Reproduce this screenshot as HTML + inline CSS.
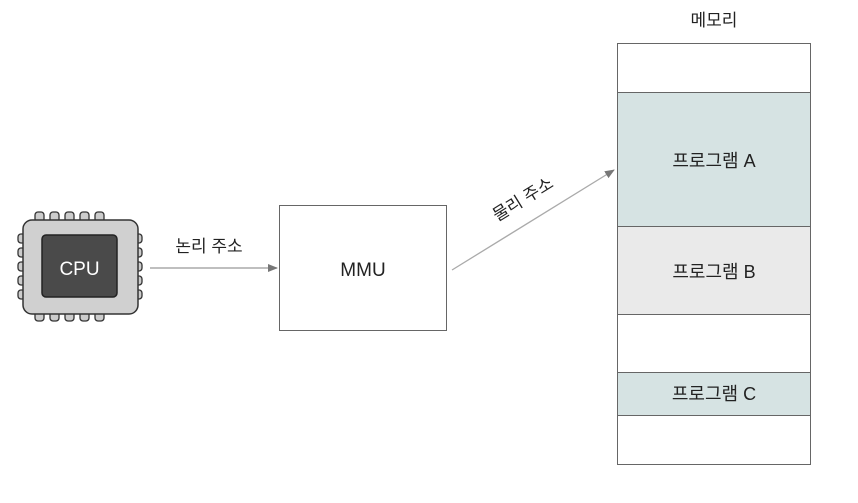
<!DOCTYPE html>
<html><head><meta charset="utf-8"><style>
body{margin:0;background:#fff;width:858px;height:498px;overflow:hidden}
text{font-family:"Liberation Sans","Noto Sans CJK KR",sans-serif;fill:#222}
</style></head><body>
<svg width="858" height="498" viewBox="0 0 858 498">
<defs><marker id="a" markerWidth="10" markerHeight="8" refX="9" refY="4" orient="auto" markerUnits="userSpaceOnUse"><path d="M0,0 L10,4 L0,8z" fill="#777"/></marker></defs>
<g fill="#ccc" stroke="#333" stroke-width="1.3">
<rect x="35" y="212" width="9" height="10" rx="3"/><rect x="50" y="212" width="9" height="10" rx="3"/><rect x="65" y="212" width="9" height="10" rx="3"/><rect x="80" y="212" width="9" height="10" rx="3"/><rect x="95" y="212" width="9" height="10" rx="3"/>
<rect x="35" y="311" width="9" height="10" rx="3"/><rect x="50" y="311" width="9" height="10" rx="3"/><rect x="65" y="311" width="9" height="10" rx="3"/><rect x="80" y="311" width="9" height="10" rx="3"/><rect x="95" y="311" width="9" height="10" rx="3"/>
<rect x="18" y="234" width="8" height="9" rx="3"/><rect x="18" y="248" width="8" height="9" rx="3"/><rect x="18" y="262" width="8" height="9" rx="3"/><rect x="18" y="276" width="8" height="9" rx="3"/><rect x="18" y="290" width="8" height="9" rx="3"/>
<rect x="134" y="234" width="8" height="9" rx="3"/><rect x="134" y="248" width="8" height="9" rx="3"/><rect x="134" y="262" width="8" height="9" rx="3"/><rect x="134" y="276" width="8" height="9" rx="3"/><rect x="134" y="290" width="8" height="9" rx="3"/>
</g>
<rect x="23" y="220" width="115" height="94" rx="9" fill="#d0d0d0" stroke="#333" stroke-width="1.5"/>
<rect x="42" y="235" width="75" height="62" rx="4" fill="#4a4a4a" stroke="#222" stroke-width="1.5"/>
<text x="79.5" y="275" font-size="19" text-anchor="middle" style="fill:#fff">CPU</text>
<line x1="150" y1="268" x2="277" y2="268" stroke="#999" stroke-width="1.3" marker-end="url(#a)"/>
<text x="209" y="252" font-size="17" text-anchor="middle">논리 주소</text>
<rect x="279.5" y="205.5" width="167" height="125" fill="#fff" stroke="#666"/>
<text x="363" y="276" font-size="19" text-anchor="middle">MMU</text>
<line x1="452" y1="270" x2="614" y2="170" stroke="#aaa" stroke-width="1.3" marker-end="url(#a)"/>
<text x="0" y="0" font-size="17" text-anchor="middle" transform="translate(526,204) rotate(-31.7)">물리 주소</text>
<text x="714" y="26" font-size="17" text-anchor="middle">메모리</text>
<rect x="617.5" y="92" width="193" height="134" fill="#d6e3e3"/>
<rect x="617.5" y="226" width="193" height="88" fill="#eaeaea"/>
<rect x="617.5" y="372" width="193" height="43" fill="#d6e3e3"/>
<g stroke="#666" stroke-width="1" fill="none">
<rect x="617.5" y="43.5" width="193" height="421"/>
<line x1="617" y1="92.5" x2="811" y2="92.5"/><line x1="617" y1="226.5" x2="811" y2="226.5"/>
<line x1="617" y1="314.5" x2="811" y2="314.5"/><line x1="617" y1="372.5" x2="811" y2="372.5"/>
<line x1="617" y1="415.5" x2="811" y2="415.5"/>
</g>
<text x="714" y="167" font-size="18" text-anchor="middle">프로그램 A</text>
<text x="714" y="278" font-size="18" text-anchor="middle">프로그램 B</text>
<text x="714" y="400" font-size="18" text-anchor="middle">프로그램 C</text>
</svg>
</body></html>
